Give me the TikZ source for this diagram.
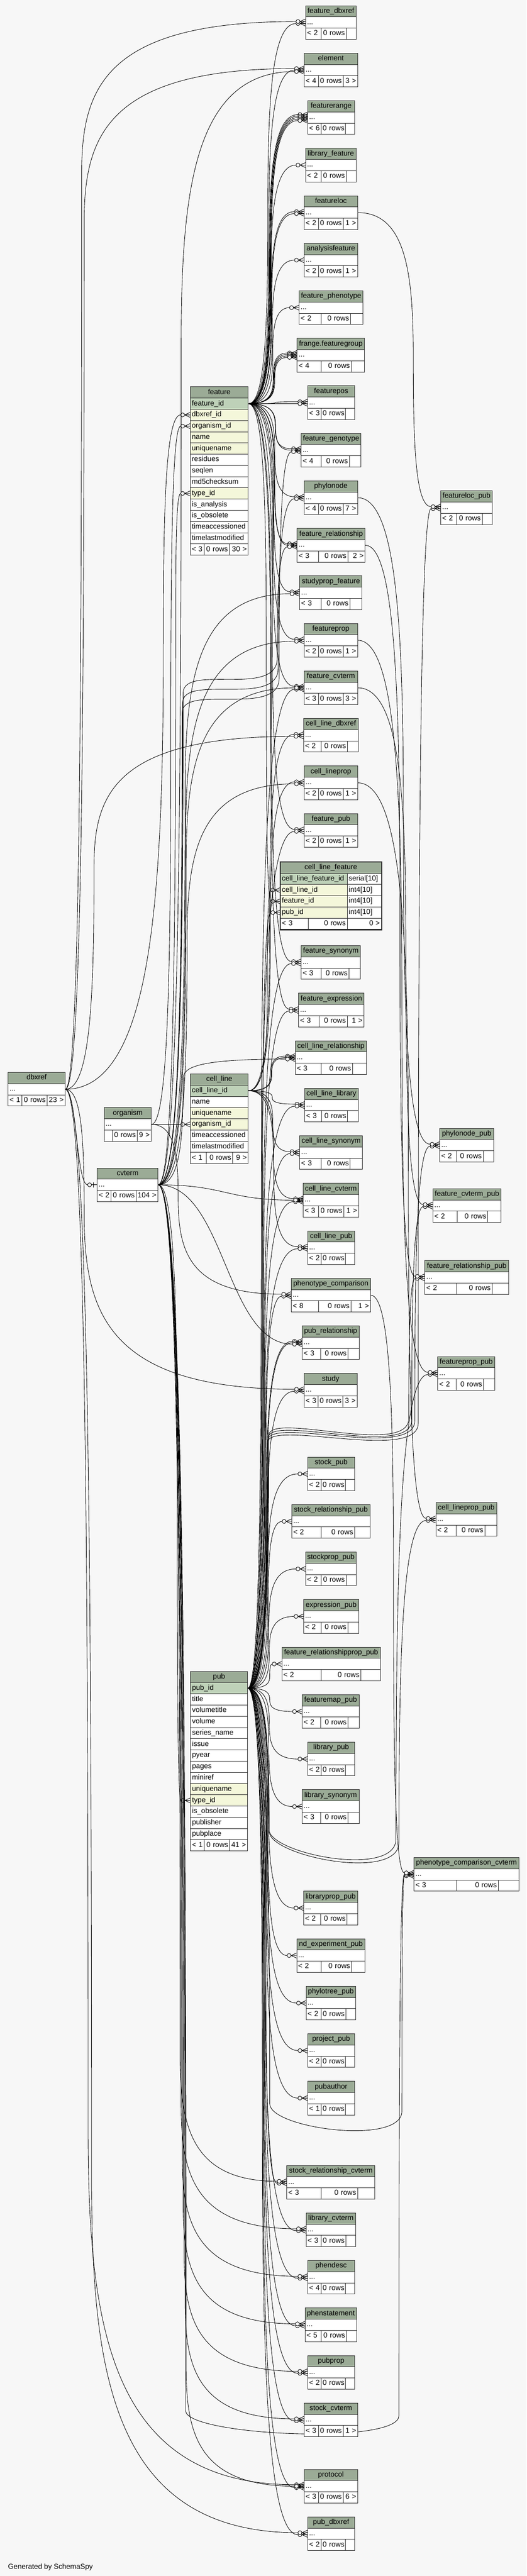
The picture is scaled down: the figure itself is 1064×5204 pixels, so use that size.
\documentclass[tikz,border=0pt]{standalone}
\usepackage{fontspec}
\setmainfont{Liberation Sans}
\usetikzlibrary{calc}
\definecolor{bgc}{HTML}{F7F7F7}
\definecolor{hdrc}{HTML}{9BAB96}
\definecolor{pkc}{HTML}{BED1B8}
\definecolor{idxc}{HTML}{F4F7DA}
\definecolor{bordc}{HTML}{2B2B2B}
\pgfdeclarelayer{backlayer}
\pgfdeclarelayer{edgelayer}
\pgfsetlayers{backlayer,edgelayer,main}
\tikzset{
  cellbase/.style={draw=bordc, line width=1pt, anchor=north west, inner xsep=3pt, inner ysep=0pt,
     minimum height=22.67pt, text height=10.6pt, text depth=3.4pt, font=\fontsize{14.6}{17}\selectfont},
  edgeln/.style={draw=black, line width=0.9pt},
}
\newcommand\cellnode[7]{%
  \pgfmathsetmacro\cnW{#4-6}%
  \node[cellbase, fill=#5, text width=\cnW pt, align=#6] (#1) at (#2,#3) {\mbox{#7}};%
}
\newcommand\stab[7]{%
  \pgfmathsetmacro\stW{#3-#2}%
  \def\stRt{#7}%
  \ifx\stRt\empty\def\stN{19}\else\def\stN{29}\fi
  \pgfmathsetmacro\stE{\stW-79-\stN}%
  \pgfmathsetmacro\stL{29+0.5*\stE}%
  \pgfmathsetmacro\stM{50+0.3*\stE}%
  \pgfmathsetmacro\stR{\stW-\stL-\stM}%
  \pgfmathsetmacro\stYa{#4+22.67}%
  \pgfmathsetmacro\stYb{#4+45.33}%
  \pgfmathsetmacro\stXa{#2+\stL}%
  \pgfmathsetmacro\stXb{#2+\stL+\stM}%
  \cellnode{#1}{#2}{#4}{\stW}{hdrc}{center}{#5}%
  \cellnode{#1-r}{#2}{\stYa}{\stW}{white}{left}{...}%
  \cellnode{#1-fl}{#2}{\stYb}{\stL}{white}{left}{#6}%
  \cellnode{#1-fm}{\stXa}{\stYb}{\stM}{white}{right}{0 rows}%
  \cellnode{#1-fr}{\stXb}{\stYb}{\stR}{white}{right}{#7}%
}
\newcommand\fkcrow[2]{%
  \draw[edgeln] let \p1=(#1) in
    ({\x1-11},{\y1-(#2)}) -- ({\x1},{\y1-(#2)+5})
    ({\x1-11},{\y1-(#2)}) -- ({\x1},{\y1-(#2)-5})
    ({\x1-11},{\y1-(#2)}) -- ({\x1},{\y1-(#2)});
  \draw[edgeln, fill=bgc] let \p1=(#1) in ({\x1-15},{\y1-(#2)}) circle[radius=4pt];
}
\newcommand\fkV[4][0]{%
  \draw[edgeln] let \p1=(#2), \p2=(#3) in (\p1)
   .. controls ({\x1+0.9*(#4-\x1)},{\y1}) and ({#4},{(\y1+\y2-(#1))/2+0.275*(\y1-\y2+(#1))})
   .. ({#4},{(\y1+\y2-(#1))/2})
   .. controls ({#4},{(\y1+\y2-(#1))/2-0.275*(\y1-\y2+(#1))}) and ({\x2-19-0.9*(\x2-19-#4)},{\y2-(#1)})
   .. ({\x2-19},{\y2-(#1)});
  \fkcrow{#3}{#1}}
\newcommand\fkW[5][0]{%
  \draw[edgeln] let \p1=(#2), \p2=(#3) in (\p1)
   .. controls ({\x1+0.9*(#4-\x1)},{\y1}) and ({#4},{-(#5)+0.55*(\y1+(#5))})
   .. ({#4},{-(#5)*1pt})
   .. controls ({#4},{-(#5)+0.55*(\y2-(#1)+(#5))}) and ({\x2-19-0.9*(\x2-19-#4)},{\y2-(#1)})
   .. ({\x2-19},{\y2-(#1)});
  \fkcrow{#3}{#1}}
\newcommand\fkVV[9][0]{%
  \draw[edgeln] let \p1=(#2), \p2=(#3) in (\p1)
   .. controls ({\x1+0.9*(#4-\x1)},{\y1}) and ({#4},{-(#5)+0.55*(\y1+(#5))})
   .. ({#4},{-(#5)*1pt})
   .. controls ({#4},{(-(#5)-(#6))*1pt}) and ({#7},{(-(#8)-(#9))*1pt})
   .. ({#7},{-(#8)*1pt})
   .. controls ({#7},{-(#8)+0.55*(\y2-(#1)+(#8))}) and ({\x2-19-0.9*(\x2-19-#7)},{\y2-(#1)})
   .. ({\x2-19},{\y2-(#1)});
  \fkcrow{#3}{#1}}
\newcommand\fkD[3][0]{%
  \draw[edgeln] let \p1=(#2), \p2=(#3) in (\p1)
   .. controls ({(\x1+\x2-19)/2},{\y1}) and ({(\x1+\x2-19)/2},{\y2-(#1)})
   .. ({\x2-19},{\y2-(#1)});
  \fkcrow{#3}{#1}}
\newcommand\fkOne[2]{%
  \draw[edgeln] let \p1=(#1), \p2=(#2) in (\p1)
   .. controls ({(\x1+\x2-19)/2},{\y1}) and ({(\x1+\x2-19)/2},{\y2})
   .. ({\x2-19},{\y2});
  \draw[edgeln] let \p2=(#2) in ({\x2-11},{\y2}) -- (\p2) ({\x2-7},{\y2+5}) -- ({\x2-7},{\y2-5});
  \draw[edgeln, fill=bgc] let \p2=(#2) in ({\x2-15},{\y2}) circle[radius=4pt];}

\begin{document}
\begin{tikzpicture}[x=1pt,y=-1pt]
\begin{pgfonlayer}{backlayer}
\fill[bgc] (0,0) rectangle (1064,5204);
\end{pgfonlayer}
\useasboundingbox (0,0) rectangle (1064,5204);

% ---------- left column ----------
\cellnode{dbx}{16}{2166}{115}{hdrc}{center}{dbxref}
\cellnode{dbx-r}{16}{2188.67}{115}{white}{left}{...}
\cellnode{dbx-fl}{16}{2211.33}{28}{white}{left}{< 1}
\cellnode{dbx-fm}{44}{2211.33}{50.7}{white}{right}{0 rows}
\cellnode{dbx-fr}{94.7}{2211.33}{36.3}{white}{right}{23 >}

\cellnode{org}{210}{2237}{95}{hdrc}{center}{organism}
\cellnode{org-r}{210}{2259.67}{95}{white}{left}{...}
\cellnode{org-fl}{210}{2282.33}{16.6}{white}{left}{}
\cellnode{org-fm}{226.6}{2282.33}{50.4}{white}{right}{0 rows}
\cellnode{org-fr}{277}{2282.33}{28}{white}{right}{9 >}

\cellnode{cvt}{196}{2359}{122.5}{hdrc}{center}{cvterm}
\cellnode{cvt-r}{196}{2381.67}{122.5}{white}{left}{...}
\cellnode{cvt-fl}{196}{2404.33}{28}{white}{left}{< 2}
\cellnode{cvt-fm}{224}{2404.33}{50.5}{white}{right}{0 rows}
\cellnode{cvt-fr}{274.5}{2404.33}{44}{white}{right}{104 >}

% ---------- feature ----------
\cellnode{feature}{384}{781}{117}{hdrc}{center}{feature}
\cellnode{feature-pk}{384}{803.67}{117}{pkc}{left}{feature\_id}
\cellnode{feature-dbx}{384}{826.33}{117}{idxc}{left}{dbxref\_id}
\cellnode{feature-org}{384}{849}{117}{idxc}{left}{organism\_id}
\cellnode{feature-name}{384}{871.67}{117}{idxc}{left}{name}
\cellnode{feature-uq}{384}{894.33}{117}{idxc}{left}{uniquename}
\cellnode{feature-res}{384}{917}{117}{white}{left}{residues}
\cellnode{feature-sl}{384}{939.67}{117}{white}{left}{seqlen}
\cellnode{feature-md5}{384}{962.33}{117}{white}{left}{md5checksum}
\cellnode{feature-type}{384}{985}{117}{idxc}{left}{type\_id}
\cellnode{feature-ia}{384}{1007.67}{117}{white}{left}{is\_analysis}
\cellnode{feature-io}{384}{1030.33}{117}{white}{left}{is\_obsolete}
\cellnode{feature-ta}{384}{1053}{117}{white}{left}{timeaccessioned}
\cellnode{feature-tl}{384}{1075.67}{117}{white}{left}{timelastmodified}
\cellnode{feature-fl}{384}{1098.33}{28.3}{white}{left}{< 3}
\cellnode{feature-fm}{412.3}{1098.33}{50.7}{white}{right}{0 rows}
\cellnode{feature-fr}{463}{1098.33}{38}{white}{right}{30 >}

% ---------- cell_line ----------
\cellnode{cl}{384}{2169}{117}{hdrc}{center}{cell\_line}
\cellnode{cl-pk}{384}{2191.67}{117}{pkc}{left}{cell\_line\_id}
\cellnode{cl-name}{384}{2214.33}{117}{white}{left}{name}
\cellnode{cl-uq}{384}{2237}{117}{idxc}{left}{uniquename}
\cellnode{cl-org}{384}{2259.67}{117}{idxc}{left}{organism\_id}
\cellnode{cl-ta}{384}{2282.33}{117}{white}{left}{timeaccessioned}
\cellnode{cl-tl}{384}{2305}{117}{white}{left}{timelastmodified}
\cellnode{cl-fl}{384}{2327.67}{32.7}{white}{left}{< 1}
\cellnode{cl-fm}{416.7}{2327.67}{53}{white}{right}{0 rows}
\cellnode{cl-fr}{469.7}{2327.67}{31.3}{white}{right}{9 >}

% ---------- pub ----------
\cellnode{pub}{384.5}{3376}{115}{hdrc}{center}{pub}
\cellnode{pub-pk}{384.5}{3398.67}{115}{pkc}{left}{pub\_id}
\cellnode{pub-title}{384.5}{3421.33}{115}{white}{left}{title}
\cellnode{pub-vt}{384.5}{3444}{115}{white}{left}{volumetitle}
\cellnode{pub-vol}{384.5}{3466.67}{115}{white}{left}{volume}
\cellnode{pub-sn}{384.5}{3489.33}{115}{white}{left}{series\_name}
\cellnode{pub-iss}{384.5}{3512}{115}{white}{left}{issue}
\cellnode{pub-py}{384.5}{3534.67}{115}{white}{left}{pyear}
\cellnode{pub-pg}{384.5}{3557.33}{115}{white}{left}{pages}
\cellnode{pub-mr}{384.5}{3580}{115}{white}{left}{miniref}
\cellnode{pub-uq}{384.5}{3602.67}{115}{idxc}{left}{uniquename}
\cellnode{pub-type}{384.5}{3625.33}{115}{idxc}{left}{type\_id}
\cellnode{pub-io}{384.5}{3648}{115}{white}{left}{is\_obsolete}
\cellnode{pub-pubr}{384.5}{3670.67}{115}{white}{left}{publisher}
\cellnode{pub-pp}{384.5}{3693.33}{115}{white}{left}{pubplace}
\cellnode{pub-fl}{384.5}{3716}{28}{white}{left}{< 1}
\cellnode{pub-fm}{412.5}{3716}{51}{white}{right}{0 rows}
\cellnode{pub-fr}{463.5}{3716}{36}{white}{right}{41 >}

% ---------- cell_line_feature ----------
\cellnode{clf}{566}{1741}{204}{hdrc}{center}{cell\_line\_feature}
\cellnode{clf-id}{566}{1763.67}{135}{pkc}{left}{cell\_line\_feature\_id}
\cellnode{clf-idt}{701}{1763.67}{69}{white}{left}{serial[10]}
\cellnode{clf-cl}{566}{1786.33}{135}{idxc}{left}{cell\_line\_id}
\cellnode{clf-clt}{701}{1786.33}{69}{white}{left}{int4[10]}
\cellnode{clf-f}{566}{1809}{135}{idxc}{left}{feature\_id}
\cellnode{clf-ft}{701}{1809}{69}{white}{left}{int4[10]}
\cellnode{clf-p}{566}{1831.67}{135}{idxc}{left}{pub\_id}
\cellnode{clf-pt}{701}{1831.67}{69}{white}{left}{int4[10]}
\cellnode{clf-fl}{566}{1854.33}{56}{white}{left}{< 3}
\cellnode{clf-fm}{622}{1854.33}{79}{white}{right}{0 rows}
\cellnode{clf-fr}{701}{1854.33}{69}{white}{right}{0 >}
\draw[draw=bordc, line width=2.5pt] (clf.north west) rectangle (clf-fr.south east);

% ---------- middle column ----------
\stab{fdbx}{617}{719}{11}{feature\_dbxref}{< 2}{}
\stab{elem}{614}{722}{107}{element}{< 4}{3 >}
\stab{frange}{621}{716}{203}{featurerange}{< 6}{}
\stab{libf}{617}{719}{299}{library\_feature}{< 2}{}
\stab{floc}{614}{722}{395}{featureloc}{< 2}{1 >}
\stab{anf}{614}{722}{491}{analysisfeature}{< 2}{1 >}
\stab{fphen}{604}{733}{587}{feature\_phenotype}{< 2}{}
\stab{fgrp}{600}{736}{683}{frange.featuregroup}{< 4}{}
\stab{fpos}{621}{716}{779}{featurepos}{< 3}{}
\stab{fgen}{608}{729}{875}{feature\_genotype}{< 4}{}
\stab{phyn}{614}{722}{971}{phylonode}{< 4}{7 >}
\stab{frel}{600}{737}{1067}{feature\_relationship}{< 3}{2 >}
\stab{spf}{605}{731}{1163}{studyprop\_feature}{< 3}{}
\stab{fprop}{614}{722}{1259}{featureprop}{< 2}{1 >}
\stab{fcvt}{614}{722}{1355}{feature\_cvterm}{< 3}{3 >}
\stab{cldbx}{613}{723}{1451}{cell\_line\_dbxref}{< 2}{}
\stab{clprop}{614}{722}{1547}{cell\_lineprop}{< 2}{1 >}
\stab{fpub}{614}{722}{1643}{feature\_pub}{< 2}{1 >}
\stab{fsyn}{608}{728}{1910}{feature\_synonym}{< 3}{}
\stab{fexp}{603}{735}{2006}{feature\_expression}{< 3}{1 >}
\stab{clrel}{596}{740}{2102}{cell\_line\_relationship}{< 3}{}
\stab{cllib}{615}{723}{2198}{cell\_line\_library}{< 3}{}
\stab{clsyn}{605}{732}{2294}{cell\_line\_synonym}{< 3}{}
\stab{clcvt}{612}{724}{2390}{cell\_line\_cvterm}{< 3}{1 >}
\stab{clpub}{621}{716}{2486}{cell\_line\_pub}{< 2}{}
\stab{pcmp}{588}{748}{2582}{phenotype\_comparison}{< 8}{1 >}
\stab{prel}{610}{725}{2678}{pub\_relationship}{< 3}{}
\stab{study}{614}{721}{2774}{study}{< 3}{3 >}
\stab{stpub}{621}{716}{2943}{stock\_pub}{< 2}{}
\stab{strpub}{589}{747}{3039}{stock\_relationship\_pub}{< 2}{}
\stab{stppub}{617}{719}{3135}{stockprop\_pub}{< 2}{}
\stab{exppub}{613}{724}{3231}{expression\_pub}{< 2}{}
\stab{frpp}{569}{768}{3327}{feature\_relationshipprop\_pub}{< 2}{}
\stab{fmpub}{610}{725}{3423}{featuremap\_pub}{< 2}{}
\stab{libpub}{621}{716}{3519}{library\_pub}{< 2}{}
\stab{libsyn}{610}{725}{3615}{library\_synonym}{< 3}{}
\stab{lppub}{613}{722}{3820}{libraryprop\_pub}{< 2}{}
\stab{ndpub}{599}{737}{3916}{nd\_experiment\_pub}{< 2}{}
\stab{ptpub}{618}{718}{4012}{phylotree\_pub}{< 2}{}
\stab{prjpub}{621}{716}{4108}{project\_pub}{< 2}{}
\stab{pauth}{621}{716}{4204}{pubauthor}{< 1}{}
\stab{srcvt}{579}{757}{4374}{stock\_relationship\_cvterm}{< 3}{}
\stab{libcvt}{618}{718}{4470}{library\_cvterm}{< 3}{}
\stab{phdesc}{621}{716}{4566}{phendesc}{< 4}{}
\stab{phstat}{616}{720}{4662}{phenstatement}{< 5}{}
\stab{pprop}{621}{716}{4758}{pubprop}{< 2}{}
\stab{stcvt}{614}{722}{4854}{stock\_cvterm}{< 3}{1 >}
\stab{proto}{614}{722}{4988}{protocol}{< 3}{6 >}
\stab{pdbx}{621}{716}{5084}{pub\_dbxref}{< 2}{}

% ---------- right column ----------
\stab{flpub}{890}{994}{991}{featureloc\_pub}{< 2}{}
\stab{pnpub}{888}{997}{2279}{phylonode\_pub}{< 2}{}
\stab{fcpub}{874}{1012}{2401}{feature\_cvterm\_pub}{< 2}{}
\stab{frpub}{858}{1027}{2546}{feature\_relationship\_pub}{< 2}{}
\stab{fppub}{884}{999}{2740}{featureprop\_pub}{< 2}{}
\stab{clppub}{880}{1003}{3035}{cell\_lineprop\_pub}{< 2}{}
\stab{pccvt}{836}{1048}{3752}{phenotype\_comparison\_cvterm}{< 3}{}

\node[anchor=west, inner sep=0pt, font=\fontsize{14.6}{17}\selectfont] (gen) at (16,5186) {Generated by SchemaSpy};

% ================= connectors =================
\begin{pgfonlayer}{edgelayer}
% feature -> children
\fkV[2]{feature-pk.east}{fdbx-r.west}{541}
\fkV[0]{feature-pk.east}{elem-r.west}{543}
\fkV[-6]{feature-pk.east}{frange-r.west}{544}
\fkV[-3]{feature-pk.east}{frange-r.west}{545}
\fkV[0]{feature-pk.east}{frange-r.west}{546}
\fkV[3]{feature-pk.east}{frange-r.west}{547}
\fkV[6]{feature-pk.east}{frange-r.west}{548}
\fkV[0]{feature-pk.east}{libf-r.west}{547}
\fkV[-2]{feature-pk.east}{floc-r.west}{548}
\fkV[2]{feature-pk.east}{floc-r.west}{549}
\fkV[0]{feature-pk.east}{anf-r.west}{550}
\fkV[0]{feature-pk.east}{fphen-r.west}{551}
\fkV[-4.5]{feature-pk.east}{fgrp-r.west}{552}
\fkV[-1.5]{feature-pk.east}{fgrp-r.west}{553}
\fkV[1.5]{feature-pk.east}{fgrp-r.west}{554}
\fkV[4.5]{feature-pk.east}{fgrp-r.west}{555}
\fkV[-2]{feature-pk.east}{fpos-r.west}{556}
\fkV[2]{feature-pk.east}{fpos-r.west}{557}
\fkV[-3]{feature-pk.east}{fgen-r.west}{556}
\fkV[0]{feature-pk.east}{fgen-r.west}{557}
\fkV[-2]{feature-pk.east}{phyn-r.west}{555}
\fkV[-3]{feature-pk.east}{frel-r.west}{554}
\fkV[0]{feature-pk.east}{frel-r.west}{555}
\fkV[-2]{feature-pk.east}{spf-r.west}{553}
\fkV[-2]{feature-pk.east}{fprop-r.west}{552}
\fkV[-3]{feature-pk.east}{fcvt-r.west}{551}
\fkV[-2]{feature-pk.east}{fpub-r.west}{550}
\fkV[0]{feature-pk.east}{clf-f.west}{538}
\fkV[-2]{feature-pk.east}{fsyn-r.west}{548}
\fkV[-2]{feature-pk.east}{fexp-r.west}{547}
% cell_line -> children
\fkV[-2]{cl-pk.east}{cldbx-r.west}{545}
\fkV[-2]{cl-pk.east}{clprop-r.west}{546}
\fkV[0]{cl-pk.east}{clf-cl.west}{540}
\fkV[-3]{cl-pk.east}{clrel-r.west}{548}
\fkV[0]{cl-pk.east}{clrel-r.west}{549}
\fkV[-2]{cl-pk.east}{cllib-r.west}{550}
\fkV[-2]{cl-pk.east}{clsyn-r.west}{551}
\fkV[-3]{cl-pk.east}{clcvt-r.west}{552}
\fkV[-2]{cl-pk.east}{clpub-r.west}{553}
% pub -> children
\fkV[3]{pub-pk.east}{fcvt-r.west}{528}
\fkV[2]{pub-pk.east}{fpub-r.west}{529}
\fkV[0]{pub-pk.east}{clf-p.west}{530}
\fkV[2]{pub-pk.east}{fsyn-r.west}{531}
\fkV[2]{pub-pk.east}{fexp-r.west}{532}
\fkV[2]{pub-pk.east}{cllib-r.west}{533}
\fkV[2]{pub-pk.east}{clsyn-r.west}{534}
\fkV[3]{pub-pk.east}{clcvt-r.west}{535}
\fkV[2]{pub-pk.east}{clpub-r.west}{536}
\fkV[2]{pub-pk.east}{pcmp-r.west}{537}
\fkV[-3]{pub-pk.east}{prel-r.west}{538}
\fkV[0]{pub-pk.east}{prel-r.west}{539}
\fkV[2]{pub-pk.east}{study-r.west}{540}
\fkV{pub-pk.east}{stpub-r.west}{541}
\fkV{pub-pk.east}{strpub-r.west}{542}
\fkV{pub-pk.east}{stppub-r.west}{543}
\fkV{pub-pk.east}{exppub-r.west}{544}
\fkV{pub-pk.east}{frpp-r.west}{545}
\fkV{pub-pk.east}{fmpub-r.west}{545}
\fkV{pub-pk.east}{libpub-r.west}{544}
\fkV{pub-pk.east}{libsyn-r.west}{543}
\fkV{pub-pk.east}{lppub-r.west}{542}
\fkV{pub-pk.east}{ndpub-r.west}{541}
\fkV{pub-pk.east}{ptpub-r.west}{540}
\fkV{pub-pk.east}{prjpub-r.west}{539}
\fkV{pub-pk.east}{pauth-r.west}{538}
\fkV[2]{pub-pk.east}{srcvt-r.west}{537}
\fkV[2]{pub-pk.east}{libcvt-r.west}{536}
\fkV[2]{pub-pk.east}{phdesc-r.west}{535}
\fkV[2]{pub-pk.east}{phstat-r.west}{534}
\fkV[2]{pub-pk.east}{pprop-r.west}{533}
\fkV[2]{pub-pk.east}{stcvt-r.west}{532}
\fkV[3]{pub-pk.east}{proto-r.west}{531}
\fkV[2]{pub-pk.east}{pdbx-r.west}{530}
\fkVV[2]{pub-pk.east}{flpub-r.west}{540}{2915}{-50}{845}{2875}{80}
\fkVV[2]{pub-pk.east}{pnpub-r.west}{541}{2910}{-50}{838}{2870}{80}
\fkVV[2]{pub-pk.east}{fcpub-r.west}{542}{2905}{-50}{832}{2868}{80}
\fkVV[2]{pub-pk.east}{frpub-r.west}{543}{2900}{-50}{826}{2865}{80}
\fkVV[2]{pub-pk.east}{fppub-r.west}{543}{3695}{50}{800}{3715}{80}
\fkVV[2]{pub-pk.east}{clppub-r.west}{544}{3700}{50}{806}{3722}{80}
\fkVV[3]{pub-pk.east}{pccvt-r.west}{545}{4250}{50}{812}{4265}{70}
% dbxref -> children
\fkW[-2]{dbx-r.east}{fdbx-r.west}{165}{350}
\fkW[-3]{dbx-r.east}{elem-r.west}{170}{450}
\fkW[0]{dbx-r.east}{feature-dbx.west}{330}{1300}
\fkW[2]{dbx-r.east}{cldbx-r.west}{190}{1750}
\fkW[-2]{dbx-r.east}{study-r.west}{170}{2450}
\fkW[-3]{dbx-r.east}{proto-r.west}{178}{4300}
\fkW[-2]{dbx-r.east}{pdbx-r.west}{185}{4400}
\fkOne{dbx-r.east}{cvt-r.west}
% organism -> children
\fkW[0]{org-r.east}{feature-org.west}{345}{1500}
\fkD[0]{org-r.east}{cl-org.west}
\fkW[-2]{org-r.east}{pcmp-r.west}{360}{2420}
% cvterm -> children
\fkW[3]{cvt-r.east}{elem-r.west}{366}{700}
\fkW[0]{cvt-r.east}{feature-type.west}{355}{1250}
\fkVV[3]{cvt-r.east}{fgen-r.west}{368}{1440}{-60}{564}{1370}{80}
\fkVV[2]{cvt-r.east}{phyn-r.west}{369}{1420}{-60}{562}{1350}{80}
\fkVV[3]{cvt-r.east}{frel-r.west}{370}{1400}{-60}{560}{1330}{80}
\fkW[2]{cvt-r.east}{spf-r.west}{374}{1600}
\fkW[2]{cvt-r.east}{fprop-r.west}{375}{1700}
\fkW[0]{cvt-r.east}{fcvt-r.west}{376}{1750}
\fkW[2]{cvt-r.east}{clprop-r.west}{378}{1900}
\fkW[3]{cvt-r.east}{clrel-r.west}{370}{2180}
\fkD[0]{cvt-r.east}{clcvt-r.west}
\fkD[3]{cvt-r.east}{prel-r.west}
\fkW[0]{cvt-r.east}{pub-type.west}{358}{3000}
\fkW[-2]{cvt-r.east}{srcvt-r.west}{364}{4150}
\fkW[-2]{cvt-r.east}{libcvt-r.west}{366}{4250}
\fkW[-2]{cvt-r.east}{phdesc-r.west}{368}{4350}
\fkW[-2]{cvt-r.east}{phstat-r.west}{370}{4450}
\fkW[-2]{cvt-r.east}{pprop-r.west}{372}{4550}
\fkW[-2]{cvt-r.east}{stcvt-r.west}{374}{4650}
\fkW[0]{cvt-r.east}{proto-r.west}{376}{4780}
\fkVV[0]{cvt-r.east}{pccvt-r.west}{375}{4870}{50}{806}{4880}{60}
% middle -> right column
\fkV[-2]{floc-r.east}{flpub-r.west}{835}
\fkV[-2]{phyn-r.east}{pnpub-r.west}{815}
\fkV[-2]{frel-r.east}{frpub-r.west}{808}
\fkV[-2]{fprop-r.east}{fppub-r.west}{812}
\fkV[-2]{fcvt-r.east}{fcpub-r.west}{820}
\fkV[-2]{clprop-r.east}{clppub-r.west}{825}
\fkV[-3]{pcmp-r.east}{pccvt-r.west}{795}
\end{pgfonlayer}
\end{tikzpicture}
\end{document}
